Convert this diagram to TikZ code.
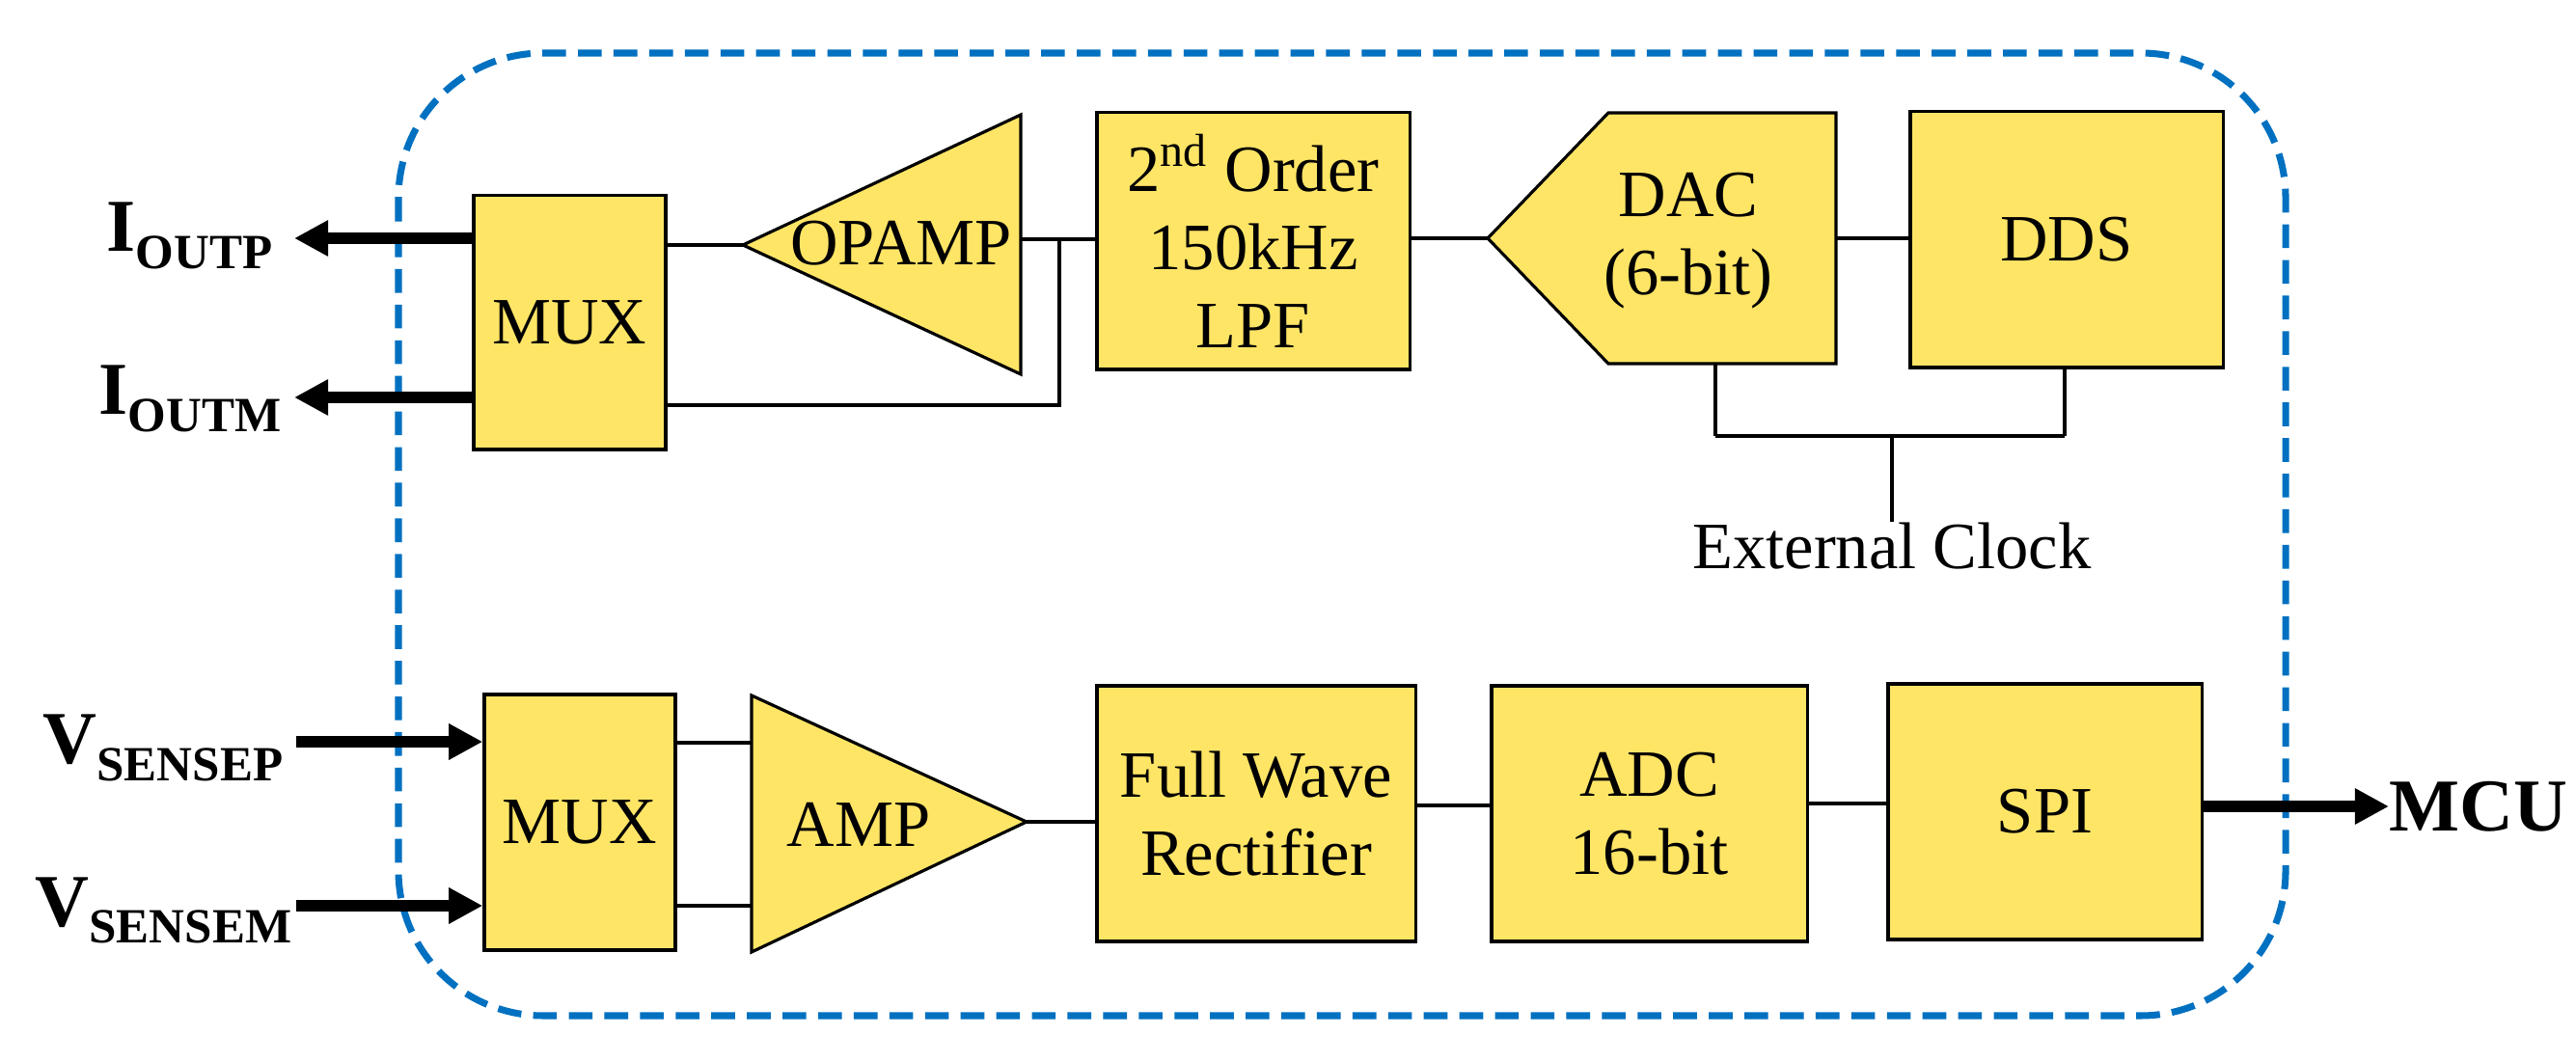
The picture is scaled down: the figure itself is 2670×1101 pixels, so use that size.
\documentclass[tikz,border=0pt]{standalone}
\usepackage{fontspec}
\setmainfont{Liberation Serif}
\usetikzlibrary{arrows.meta}
\definecolor{blky}{HTML}{FFE566}
\definecolor{dashb}{HTML}{0070C0}
\begin{document}
\begin{tikzpicture}[x=0.01cm,y=-0.01cm,
  blk/.style={draw=black,line width=0.9pt,fill=blky,inner sep=0pt,align=center,font=\fontsize{19.5}{23}\selectfont},
  tri/.style={draw=black,line width=0.9pt,fill=blky},
  lbl/.style={inner sep=0pt,font=\fontsize{19.5}{23}\selectfont},
  wire/.style={line width=1.3pt},
  thin/.style={line width=0.9pt},
  big/.style={line width=3.4pt,-{Triangle[length=10pt,width=10pt]}},
  io/.style={inner sep=0pt,font=\fontsize{22}{22}\selectfont\bfseries}]
\useasboundingbox (0,0) rectangle (2670,1101);
% outer dashed border
\draw[dashb,line width=2pt,dash pattern=on 7pt off 3.5pt,rounded corners=1.5cm] (413,55) rectangle (2369,1053);
% top row
\node[blk,minimum width=1.99cm,minimum height=2.63cm] (mux1) at (590.5,334.5) {MUX};
\draw[tri] (770,254) coordinate (opin) -- (1058,119) -- (1058,388) -- cycle;
\coordinate (opout) at (1058,248);
\node[lbl] (optxt) at (934,252) {OPAMP};
\node[blk,minimum width=3.24cm,minimum height=2.66cm] (lpf) at (1299,250) {2\textsuperscript{nd} Order\\150kHz\\LPF};
\draw[tri] (1542,247) coordinate (dacin) -- (1667,117) -- (1903,117) -- (1903,377) -- (1667,377) -- cycle;
\coordinate (dacout) at (1903,247);
\node[lbl,align=center] (dactxt) at (1750,250) {DAC\\(6-bit)};
\node[blk,minimum width=3.24cm,minimum height=2.65cm] (dds) at (2142,248.5) {DDS};
\coordinate (fb) at (1098,248);
\coordinate (fbb) at (1098,420);
\draw[wire] (mux1.east |- opin) -- (opin);
\draw[wire] (opout) -- (lpf.west |- opout);
\draw[thin] (fb) -- (fbb) -- (mux1.east |- fbb);
\draw[wire] (lpf.east |- dacin) -- (dacin);
\draw[wire] (dacout) -- (dds.west |- dacout);
% clock
\coordinate (dacb) at (1778,377);
\coordinate (ckl) at (1778,452);
\coordinate (ckr) at (2140,452);
\coordinate (ckm) at (1961,452);
\node[lbl] (clk) at (1961,566) {External Clock};
\draw[thin] (dacb) -- (ckl);
\draw[thin] (dds.south -| ckr) -- (ckr);
\draw[wire] (ckl) -- (ckr);
\draw[thin] (ckm) -- (clk.north);
% outputs
\node[io,anchor=base east] (ioutp) at (283,261) {I\raisebox{-5pt}{\fontsize{14.5}{14.5}\selectfont OUTP}};
\node[io,anchor=base east] (ioutm) at (292,430) {I\raisebox{-5pt}{\fontsize{14.5}{14.5}\selectfont OUTM}};
\coordinate (ap) at (305,247);
\coordinate (am) at (305,412);
\draw[big] (mux1.west |- ap) -- (ap);
\draw[big] (mux1.west |- am) -- (am);
% bottom row
\node[blk,minimum width=1.98cm,minimum height=2.65cm] (mux2) at (601,852.5) {MUX};
\draw[tri] (779,721) -- (779,987) -- (1064,852) coordinate (ampout) -- cycle;
\coordinate (ampa) at (779,770);
\coordinate (ampb) at (779,939);
\node[lbl] (amptxt) at (890,855) {AMP};
\node[blk,minimum width=3.30cm,minimum height=2.65cm] (fwr) at (1302,843.5) {Full Wave\\Rectifier};
\node[blk,minimum width=3.27cm,minimum height=2.65cm] (adc) at (1709.5,843.5) {ADC\\16-bit};
\node[blk,minimum width=3.25cm,minimum height=2.65cm] (spi) at (2119.5,841.5) {SPI};
\draw[wire] (mux2.east |- ampa) -- (ampa);
\draw[wire] (mux2.east |- ampb) -- (ampb);
\draw[wire] (ampout) -- (fwr.west |- ampout);
\coordinate (l1) at (1500,835);
\coordinate (l2) at (1900,833);
\draw[wire] (fwr.east |- l1) -- (adc.west |- l1);
\draw[wire] (adc.east |- l2) -- (spi.west |- l2);
% inputs
\node[io,anchor=base east] (vp) at (294,792) {V\raisebox{-5pt}{\fontsize{14.5}{14.5}\selectfont SENSEP}};
\node[io,anchor=base east] (vm) at (303,960) {V\raisebox{-5pt}{\fontsize{14.5}{14.5}\selectfont SENSEM}};
\coordinate (vpa) at (307,769);
\coordinate (vma) at (307,939);
\draw[big] (vpa) -- (mux2.west |- vpa);
\draw[big] (vma) -- (mux2.west |- vma);
\node[io,anchor=base west] (mcu) at (2476,862) {MCU};
\draw[big] (spi.east |- 0,836) -- (mcu.west |- 0,836);
\end{tikzpicture}
\end{document}
